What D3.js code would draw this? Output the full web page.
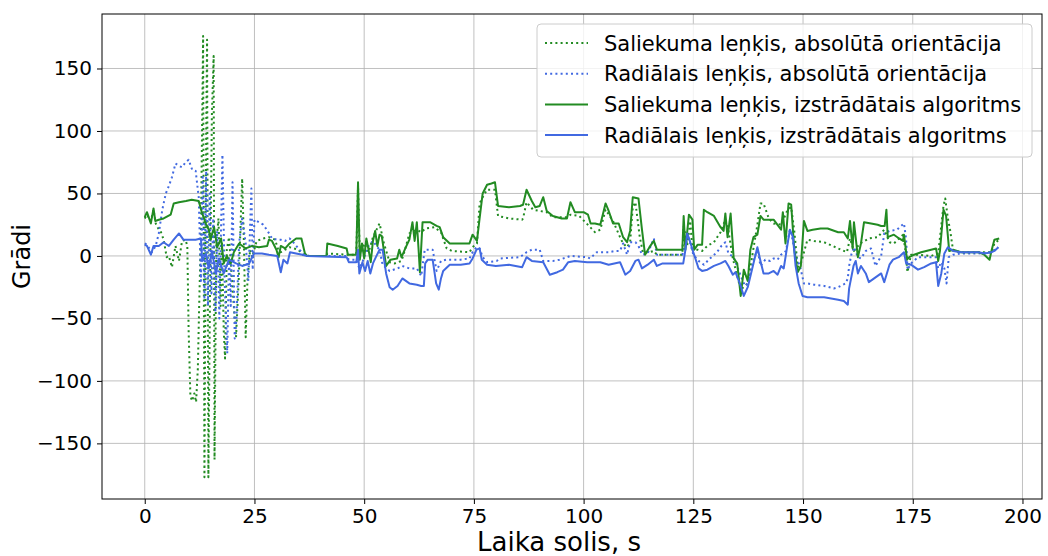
<!DOCTYPE html>
<html><head><meta charset="utf-8">
<script src="https://cdn.jsdelivr.net/npm/d3@7"></script>
<style>body{margin:0;background:#fff}svg{display:block}text{font-family:"DejaVu Sans",sans-serif}</style>
</head><body><svg id="c" width="1048" height="556"></svg>
<script>
// ---- data (time in s, angle in degrees) ----
const tSalAlg=[0,0.5,1.4,2,2.4,3.2,4.3,5.9,6.6,7.8,9.4,10.7,12.3,13,13.9,14.6,15,15.8,16.5,17.4,18,18.7,19.6,20.3,21.5,23,24.5,26,27.9,28.3,29,30,30.5,31,32,33,34.5,35.7,36.5,37,41.4,41.6,44,46,46.3,48.2,48.6,49,49.5,50,50.5,51,51.5,52,52.5,53,53.5,54,55,56,57.5,58,58.5,59.5,60.3,61,61.5,62,62.4,62.7,63.3,65,66.5,67.2,68,69.5,74,74.7,75.7,76.3,77,78,79,79.8,80.5,83,85.5,86.2,87,88.2,89,90,90.8,91.6,93,95,96.2,97,98,100,101,101.6,102.6,103.8,105,105.6,106.7,108,109,109.9,110.6,111.2,112.5,113.3,114,115,116,116.7,117.5,122.5,122.8,123.2,124,124.8,125.2,126,127,127.4,128.2,129.7,131.2,131.9,132.3,132.8,133.5,134.2,135,135.8,136.5,137.4,138,138.7,139.6,140.3,141,143.3,145,145.4,146,146.7,147.3,148,148.8,149.5,150.2,151,152.2,154,155.6,158,159.3,160.2,160.7,161.3,161.6,162.5,163.2,163.9,165.5,167,167.8,168.6,169,169.3,170.7,171.9,172.8,173,173.7,174.2,175.3,176.9,179.2,180.3,180.8,181.2,182,182.6,183.3,184.2,186,190,191.3,192.5,193,193.6,194.7];
const vSalAlg=[31,35,26,38,28,29,30,33,42,43,44,45,44,35,26,21,13,23,7,14,-6,0,-6,3,10,6,8,7,8,13,12,5,-1,8,6,10,14,14,2,0,0,10,8,6,1,1,59,-3,10,-2,14,5,-5,12,20,8,17,16,-8,-3,-2,5,-1,7,13,27,12,27,5,-13,27,27,24,23,15,10,10,17,12,30,50,57,58,59,40,39,40,41,53,44,39,40,47,36,32,30,30,43,35,35,33,26,26,25,42,37,26,26,15,11,20,47,46,21,1,7,12,5,5,5,32,5,33,29,5,9,9,37,35,32,23,20,34,15,34,-2,-6,-32,-11,-20,5,15,17,32,29,29,21,35,10,42,41,5,-13,-8,28,20,21,22,22,19,19,14,28,6,27,-1,10,27,26,25,24,24,37,15,17,14,12,17,-3,-1,1,3,5,6,-4,4,37,32,4,5,3,3,1,-3,5,13,14];

const tRadAlg=[0,0.5,1.4,2,3.2,4.3,5.5,6.6,7.8,8.8,10,11.6,12.8,13.1,13.9,14.6,15.3,16.2,16.9,18,19.2,20.8,22.2,23.8,24.9,26.7,28.3,30.2,31,31.6,32.5,33.1,35.9,37,46,46.5,48.2,48.6,48.9,49.6,50.2,50.8,51.4,52,52.8,53.5,54.2,55,55.8,56.5,57.6,58.7,60.3,62,63,63.6,63.9,64.5,65.6,66.4,67,67.5,68,69.5,72,74,74.7,75.6,76.3,76.8,78,80,83,86,87,88.2,90.8,92.3,94,95.3,96.5,98,100.8,103.8,105.7,108.3,109.5,110.6,111.8,112.5,113.3,114.6,116,116.7,118,122.7,123.2,123.6,124.3,125,126.2,127,128.2,129.7,131.2,132.3,133,134,134.6,135.8,136.5,137.4,138.7,139.6,140.3,141,142.2,143.3,144.2,145,145.6,146.5,147,147.7,148.3,149,149.9,151,152.5,154.8,158,159.3,160.2,160.5,161.5,162,162.5,163.2,164.3,165,166.2,167.8,168.5,169.7,170.5,171.8,173,173.5,174.6,176.2,177.6,179.2,180.3,180.8,181.5,182.2,183,184.2,186,190,191.3,193,193.6,194.5];
const vRadAlg=[9,8,1,8,8,11,8,13,18,13,13,13,14,-4,2,-10,4,-14,-2,-14,-3,-6,-8,-6,2,2,1,0,-13,-3,-6,3,1,0,-1,-5,-5,5,-14,-5,-12,-4,-14,-6,0,5,5,-14,-25,-27,-24,-18,-22,-23,-24,-24,-6,-3,-3,-22,-27,-18,-12,-7,-7,-6,-2,5,6,-3,-7,-8,-7,-9,-1,-4,-5,-15,-13,-11,-5,-4,-5,-5,-7,-5,-15,-12,-4,-3,-10,-7,-3,-8,-6,-6,5,18,11,3,-10,-12,-11,-8,-6,-4,-8,-15,-13,-24,-32,-25,-6,7,-4,-14,-14,-12,-15,-8,-10,10,21,15,-8,-22,-32,-33,-33,-33,-35,-36,-39,-26,-8,-4,-14,-8,-14,-21,-18,-14,-21,-7,-3,-1,3,-6,-7,-11,-9,-6,-5,-24,-14,2,7,4,3,3,2,3,4,7];

const tSalAbs=[0,0.5,1.4,2,2.5,3.2,3.6,4.3,5,5.5,6.2,7,7.8,8.5,9.3,9.7,10,10.4,10.8,11.3,11.7,12.1,12.4,12.8,13.3,13.6,14,14.2,14.5,14.9,15.3,15.7,15.9,16.3,16.8,17.3,17.6,18,18.3,18.7,19.2,19.7,20.3,20.8,21.4,22.2,22.6,23,23.4,24,24.5,25.5,27,28.3,29.7,30.5,31,32,33,35,36.3,41.4,41.6,46,48.2,48.6,49,50,51,52,53.5,54.5,55.8,57,58.5,59.3,60.3,62,63,64,66,67.5,68.8,70,74,74.7,75.7,76.3,77,78,79.8,80.5,83,86,86.2,87,88.5,90,91.6,93,96.2,97,99,101.5,102.6,103.8,105,106.7,108.3,109,109.9,110.6,111.2,111.8,112.8,113.5,115,116,116.7,122.5,122.8,123.6,124.3,124.8,126,127,128.2,129.7,131.2,132.3,133,134,135.8,137.4,138.7,139.6,140.3,141,142.2,143.3,145,146.5,147.3,148,148.8,149.5,151,152.5,154.8,158,160,160.7,161.6,163,165,167,168.5,169.7,170.7,171.9,172.8,173.3,173.8,174.6,176.2,179.2,180.8,182,182.4,183,183.5,184.2,186,190,193,193.6,194.7];
const vSalAbs=[30,33,28,37,26,21,20,13,-1,0,-9,8,-4,12,13,8,-60,-112,-116,-110,-117,-90,-40,20,176,-177,100,173,-177,-20,113,160,-163,10,30,-40,10,-60,-82,5,15,-10,-40,-65,-20,62,10,-65,-20,5,-1,12,14,15,13,4,3,5,7,5,0,0,2,1,1,55,0,10,3,15,26,10,-5,-6,-4,5,18,21,19,22,23,19,6,4,3,7,10,42,47,53,53,32,30,29,30,43,37,36,35,31,31,33,32,23,19,21,37,28,15,10,7,11,39,43,15,3,3,4,1,1,24,8,28,5,5,4,8,11,19,29,20,-2,-27,-22,6,25,42,42,30,26,25,37,39,20,-9,-6,13,12,11,6,3,14,4,10,14,15,21,11,10,14,17,5,-13,1,1,0,2,40,46,30,21,4,3,3,3,10,13];

const tRadAbs=[0,0.5,1.6,2.5,3.2,4,4.8,5.5,6.2,7,7.8,8.5,9.3,10,10.8,11.6,12.3,12.8,13.2,13.6,14,14.4,14.8,15.2,15.6,16.1,16.5,17,17.7,18.2,18.8,19.2,19.6,20,20.5,20.9,21.5,22.2,23,23.6,24.3,24.6,25,26,27,28,29,30.2,31,32,33,33.6,35,36.3,37.5,46,46.5,48.2,48.9,49.6,50.8,52,52.8,53.5,54.2,55.8,57.6,58.7,60.3,62,63,63.8,65.6,66.5,67.5,68.8,72,74,74.7,75.6,76.3,77,78,80.2,81,85.5,87,88.2,90,90.8,93,94.5,96.2,97,100.8,101.5,103,105.7,107.2,108.3,109,109.9,110.6,111.8,112.5,113.3,114.6,116,116.7,122.5,122.8,123.6,124.3,125,126.2,127.4,128.8,130.4,131.4,132.3,133,134.2,135.8,136.8,137.4,138.7,139.6,140.3,141.4,142.5,143.3,144.2,145,146.1,147,147.3,148.5,149.3,150.2,151,152.5,154.8,157,158,159.7,160.2,160.5,161,161.6,162.5,163.2,164.3,165.5,166.5,167.8,168.5,169.7,171.4,173,173.5,173.8,174.6,176.2,179.2,180.3,180.8,181.5,182.2,182.7,183.2,184.2,186,190,193,194.5];
const vRadAbs=[10,9,3,8,18,37,50,56,63,74,72,71,75,77,69,68,47,-20,65,-35,68,-40,50,-30,30,-45,20,-50,81,-20,-78,0,-40,59,-66,-50,10,30,10,-20,54,-11,29,27,25,20,14,13,13,12,14,12,6,1,0,0,-3,-3,-10,-5,7,12,8,5,-7,-12,-10,-8,-10,-10,-16,5,5,-12,-4,-3,-3,-2,3,7,6,-1,-5,-4,-2,-1,3,5,5,-4,-4,-3,-1,0,-1,-2,3,3,4,4,10,1,11,11,8,1,2,14,1,1,5,18,10,1,-4,-7,-2,3,8,11,2,-1,-16,-24,-22,-4,6,-8,-3,-4,-2,-3,1,4,21,18,-2,-8,-22,-22,-23,-24,-26,-25,-22,-18,-8,1,7,-1,-2,4,6,-8,0,18,20,21,26,13,-11,-6,-1,-1,-1,-10,-5,-10,-22,-1,1,2,2,3,7];

const xTicks=[0,25,50,75,100,125,150,175,200];
const yTicks=[-150,-100,-50,0,50,100,150];
const seriesNames=["Saliekuma leņķis, absolūtā orientācija","Radiālais leņķis, absolūtā orientācija","Saliekuma leņķis, izstrādātais algoritms","Radiālais leņķis, izstrādātais algoritms"];
const xLabel="Laika solis, s", yLabel="Grādi";

// ---- drawing ----
const W=1048,H=556,L=102,R=1042,T=14,B=499;
const svg=d3.select("#c");
const x=d3.scaleLinear().domain([-9.74,204.45]).range([L,R]);
const y=d3.scaleLinear().domain([-194.5,193.6]).range([B,T]);
const green="#228b22", blue="#4169e1";

// grid
const g=svg.append("g");
g.selectAll(".gx").data(xTicks).join("line").attr("x1",d=>x(d)).attr("x2",d=>x(d)).attr("y1",T).attr("y2",B).attr("stroke","#b0b0b0").attr("stroke-width",0.8);
g.selectAll(".gy").data(yTicks).join("line").attr("y1",d=>y(d)).attr("y2",d=>y(d)).attr("x1",L).attr("x2",R).attr("stroke","#b0b0b0").attr("stroke-width",0.8);

const series=[
 {t:tSalAbs,v:vSalAbs,c:green,dash:true},
 {t:tRadAbs,v:vRadAbs,c:blue,dash:true},
 {t:tSalAlg,v:vSalAlg,c:green,dash:false},
 {t:tRadAlg,v:vRadAlg,c:blue,dash:false}
];
const line=d3.line().x(d=>x(d[0])).y(d=>y(d[1]));
svg.append("clipPath").attr("id","cp").append("rect").attr("x",L).attr("y",T).attr("width",R-L).attr("height",B-T);
const pg=svg.append("g").attr("clip-path","url(#cp)");
series.forEach(s=>{
  const pts=s.t.map((t,i)=>[t,s.v[i]]);
  pg.append("path").attr("d",line(pts)).attr("fill","none").attr("stroke",s.c)
    .attr("stroke-width",2).attr("stroke-linejoin","round")
    .attr("stroke-dasharray",s.dash?"2,3.2":null);
});

// axes
const ax=svg.append("g").attr("transform",`translate(0,${B})`).call(d3.axisBottom(x).tickValues(xTicks).tickSize(5).tickPadding(5).tickFormat(d3.format("d")));
const ay=svg.append("g").attr("transform",`translate(${L},0)`).call(d3.axisLeft(y).tickValues(yTicks).tickSize(5).tickPadding(5).tickFormat(d=>d<0?"\u2212"+Math.abs(d):d));
[ax,ay].forEach(a=>{a.select(".domain").remove();a.selectAll("text").attr("font-size",20).attr("fill","#000").attr("font-family","DejaVu Sans");a.selectAll("line").attr("stroke","#000").attr("stroke-width",1);});
svg.append("rect").attr("x",L).attr("y",T).attr("width",R-L).attr("height",B-T).attr("fill","none").attr("stroke","#000").attr("stroke-width",1);

svg.append("text").attr("x",(L+R)/2-13).attr("y",551).attr("text-anchor","middle").attr("font-size",26).text(xLabel);
svg.append("text").attr("transform",`translate(30,${(T+B)/2}) rotate(-90)`).attr("text-anchor","middle").attr("font-size",24).text(yLabel);

// legend
const lg=svg.append("g");
lg.append("rect").attr("x",537).attr("y",24).attr("width",495).attr("height",133).attr("rx",4).attr("fill","#fff").attr("fill-opacity",0.8).attr("stroke","#ccc");
series.forEach((s,i)=>{
  const yy=43+i*30.7;
  lg.append("line").attr("x1",545).attr("x2",588).attr("y1",yy).attr("y2",yy).attr("stroke",s.c).attr("stroke-width",2).attr("stroke-dasharray",s.dash?"2,3.2":null);
  lg.append("text").attr("x",604).attr("y",yy+7.5).attr("font-size",21).attr("fill","#000").text(seriesNames[i]);
});
</script></body></html>
